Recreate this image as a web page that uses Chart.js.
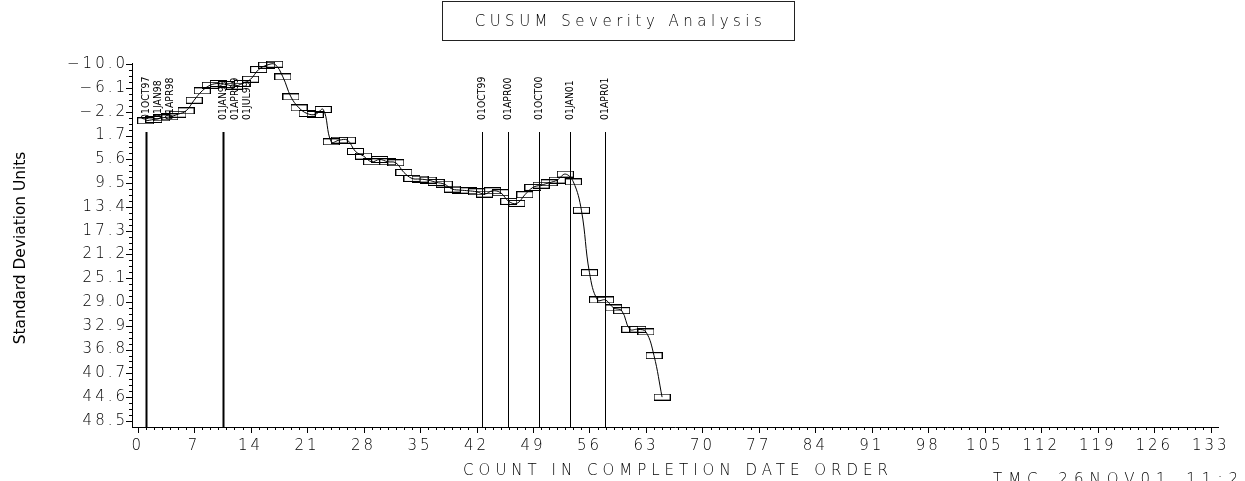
<!DOCTYPE html>
<html>
<head>
<meta charset="utf-8">
<script src="https://cdn.jsdelivr.net/npm/chart.js@4.4.0/dist/chart.umd.min.js"></script>
<style>
  html, body { margin: 0; padding: 0; background: #fff; overflow: hidden; }
  #wrap { position: relative; width: 1245px; height: 481px; }
  #title {
    position: absolute; left: 442px; top: 1px; width: 351px; height: 38px;
    border: 1px solid #222; text-align: center; color: #000;
    font: 200 15px 'DejaVu Sans', sans-serif; letter-spacing: 4.5px; line-height: 38px;
    text-indent: 4px;
  }
  #foot {
    position: absolute; left: 993px; top: 470px; white-space: nowrap; color: #000;
    font: 200 15px 'DejaVu Sans', sans-serif; letter-spacing: 6px; word-spacing: 4px;
  }
</style>
</head>
<body>
<div id="wrap">
  <canvas id="canvas" width="1245" height="481"></canvas>
  <div id="title">CUSUM Severity Analysis</div>
  <div id="foot">TMC  26NOV01 11:29</div>
</div>
<script>
const counts = [1, 2, 3, 4, 5, 6, 7, 8, 9, 10, 11, 12, 13, 14, 15, 16, 17, 18, 19, 20,
  21, 22, 23, 24, 25, 26, 27, 28, 29, 30, 31, 32, 33, 34, 35, 36, 37, 38, 39, 40,
  41, 42, 43, 44, 45, 46, 47, 48, 49, 50, 51, 52, 53, 54, 55, 56, 57, 58, 59, 60,
  61, 62, 63, 64, 65];
const cusum = [-0.71, -0.94, -1.2, -1.37, -1.8, -2.35, -4.1, -5.63, -6.56, -6.84,
  -6.67, -6.4, -6.84, -7.54, -9.13, -9.84, -10.0, -7.92, -4.64, -2.84,
  -1.92, -1.76, -2.58, 2.73, 2.45, 2.45, 4.31, 5.07, 6.0, 5.62,
  6.0, 6.17, 7.75, 8.73, 8.84, 9.0, 9.38, 9.66, 10.48, 10.65,
  10.76, 10.92, 11.3, 10.76, 11.08, 12.5, 12.83, 11.4, 10.2, 9.83,
  9.45, 9.0, 8.02, 9.3, 13.95, 24.2, 28.67, 28.67, 29.98, 30.42,
  33.47, 33.47, 33.9, 37.8, 44.6];
const yTicks = [-10.0, -6.1, -2.2, 1.7, 5.6, 9.5, 13.4, 17.3, 21.2, 25.1, 29.0, 32.9, 36.8, 40.7, 44.6, 48.5];
const xTicks = [0, 7, 14, 21, 28, 35, 42, 49, 56, 63, 70, 77, 84, 91, 98, 105, 112, 119, 126, 133];
const refCounts = [1, 1, 1, 10.6, 10.6, 10.6, 42.7, 45.9, 49.8, 53.6, 57.9];
const refLabels = ["01OCT97", "01JAN98", "01APR98", "01JAN99", "01APR99", "01JUL99",
  "01OCT99", "01APR00", "01OCT00", "01JAN01", "01APR01"];

const canvas = document.getElementById("canvas");
const wide = "3px";
const narrowFont = "'Liberation Sans Narrow', 'DejaVu Sans Condensed', 'DejaVu Sans', sans-serif";

function boxMarker() {
  const c = document.createElement("canvas");
  c.width = 17;
  c.height = 7;
  const g = c.getContext("2d");
  g.strokeStyle = "#000";
  g.lineWidth = 1;
  g.strokeRect(0.5, 0.5, 16, 6);
  return c;
}

// rotated text squeezed along its length, like the plotter font
function tallText(ctx, text, x, y, size, squeeze, align) {
  ctx.save();
  ctx.translate(x, y);
  ctx.rotate(-Math.PI / 2);
  ctx.scale(squeeze, 0.85);
  ctx.font = size + "px " + narrowFont;
  ctx.textAlign = align;
  ctx.textBaseline = "middle";
  ctx.fillText(text, 0, 0);
  ctx.restore();
}

const extras = {
  id: "extras",
  beforeLayout(chart) { chart.ctx.letterSpacing = wide; },
  beforeDraw(chart) { chart.ctx.letterSpacing = wide; },
  beforeDatasetsDraw(chart) {
    const { ctx, scales: { x }, chartArea } = chart;
    ctx.save();
    ctx.letterSpacing = "0px";
    ctx.strokeStyle = "#000";
    ctx.fillStyle = "#000";
    const labelBottom = chartArea.top + 57;
    const lineTop = chartArea.top + 69;
    refCounts.forEach((c, i) => {
      const dups = refCounts.filter(v => v === c).length;
      const k = refCounts.slice(0, i).filter(v => v === c).length;
      const px = Math.round(x.getPixelForValue(c)) + 0.5;
      if (k === 0) {
        ctx.lineWidth = dups > 1 ? 2 : 1;
        ctx.beginPath();
        ctx.moveTo(px, lineTop);
        ctx.lineTo(px, chartArea.bottom);
        ctx.stroke();
      }
      tallText(ctx, refLabels[i], px + k * 12, labelBottom, 13, 0.8, "left");
    });
    ctx.restore();
  },
  afterDraw(chart) {
    const { ctx, scales: { x, y }, chartArea } = chart;
    ctx.save();
    ctx.strokeStyle = "#000";
    ctx.lineWidth = 1;
    ctx.beginPath();
    for (let v = xTicks[0]; v <= xTicks[xTicks.length - 1]; v++) {
      const px = Math.round(x.getPixelForValue(v)) + 0.5;
      const len = xTicks.includes(v) ? 6 : 3;
      ctx.moveTo(px, chartArea.bottom);
      ctx.lineTo(px, chartArea.bottom + len);
    }
    yTicks.forEach((v, i) => {
      const py = Math.round(y.getPixelForValue(v)) + 0.5;
      ctx.moveTo(chartArea.left, py);
      ctx.lineTo(chartArea.left - 6, py);
      if (i < yTicks.length - 1) {
        const step = (yTicks[i + 1] - v) / 4;
        for (let m = 1; m < 4; m++) {
          const pm = Math.round(y.getPixelForValue(v + m * step)) + 0.5;
          ctx.moveTo(chartArea.left, pm);
          ctx.lineTo(chartArea.left - 3, pm);
        }
      }
    });
    ctx.stroke();

    // axis titles
    ctx.fillStyle = "#000";
    ctx.letterSpacing = "5px";
    ctx.font = "200 15px 'DejaVu Sans', sans-serif";
    ctx.textAlign = "center";
    ctx.textBaseline = "middle";
    ctx.fillText("COUNT IN COMPLETION DATE ORDER", (chartArea.left + chartArea.right) / 2 + 3, 471);

    ctx.letterSpacing = "0px";
    tallText(ctx, "Standard Deviation Units", 21, (chartArea.top + chartArea.bottom) / 2 + 3, 19, 0.9, "center");
    ctx.restore();
  }
};

const tickFont = { family: "DejaVu Sans", size: 15, weight: 200 };

new Chart(canvas, {
  type: "line",
  data: {
    datasets: [{
      data: counts.map((c, i) => ({ x: c, y: cusum[i] })),
      borderColor: "#000",
      borderWidth: 1,
      tension: 0.4,
      pointStyle: boxMarker(),
      pointRadius: 6,
      clip: false
    }]
  },
  options: {
    responsive: false,
    animation: false,
    layout: { padding: { top: 63, right: 27, left: 0, bottom: 0 } },
    plugins: { legend: { display: false }, tooltip: { enabled: false } },
    scales: {
      x: {
        type: "linear",
        min: -0.7,
        max: 133.9,
        afterBuildTicks: s => { s.ticks = xTicks.map(v => ({ value: v })); },
        afterFit: s => { s.height = 54; },
        grid: { display: false, drawTicks: false },
        border: { display: true, color: "#000", width: 1 },
        ticks: { color: "#000", font: tickFont, padding: 10, maxRotation: 0, autoSkip: false }
      },
      y: {
        type: "linear",
        reverse: true,
        min: -10.2,
        max: 49.5,
        afterBuildTicks: s => { s.ticks = yTicks.map(v => ({ value: v })); },
        afterFit: s => { s.width = 132; },
        grid: { display: false, drawTicks: false },
        border: { display: true, color: "#000", width: 1 },
        ticks: {
          color: "#000",
          font: tickFont,
          padding: 4,
          autoSkip: false,
          callback: v => (v < 0 ? "\u2212" : "") + Math.abs(v).toFixed(1)
        }
      }
    }
  },
  plugins: [extras]
});
</script>
</body>
</html>
